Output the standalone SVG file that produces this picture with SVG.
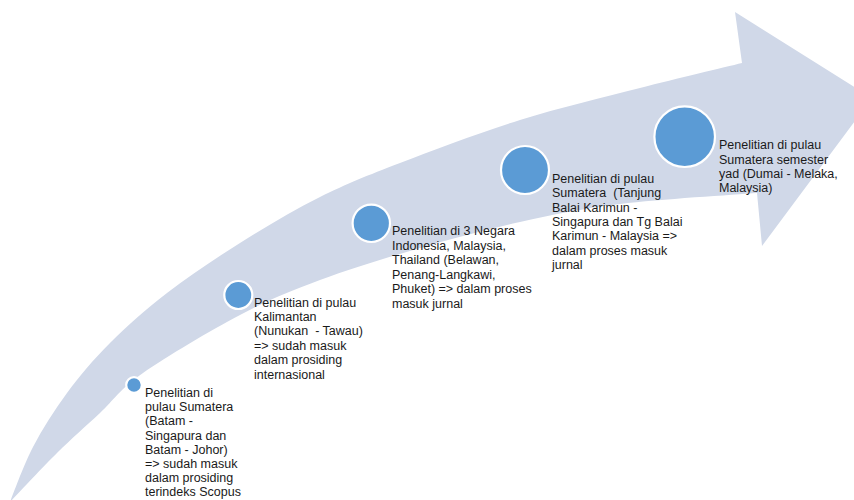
<svg xmlns="http://www.w3.org/2000/svg" width="854" height="500" viewBox="0 0 854 500">
<style>
.dot{fill:#5B9BD5;stroke:#FFFFFF;stroke-width:2.2}
.lbl{font-family:"Liberation Sans",Arial,sans-serif;font-size:12.5px;fill:#1a1a1a;white-space:pre}
</style>
<rect width="854" height="500" fill="#FFFFFF"/>
<g id="arrow">
<path d="M10,502 C13.8,492.8 23.5,465.2 33,447 C42.5,428.8 54.2,410.3 67,393 C79.8,375.7 93.3,359.7 110,343 C126.7,326.3 145.3,309.7 167,293 C188.7,276.3 214.5,259 240,243 C265.5,227 293.3,210.3 320,197 C346.7,183.7 366.7,175.8 400,163 C433.3,150.2 480,132.5 520,120 C560,107.5 603,97.5 640,88 C677,78.5 725,67.2 742,63 L735,12 L872,98 L762,246 L757,193 C734.2,194.8 659.5,199.2 620,204 C580.5,208.8 553.3,214.7 520,222 C486.7,229.3 453.3,238.3 420,248 C386.7,257.7 350,268.8 320,280 C290,291.2 269.5,299.5 240,315 C210.5,330.5 166.3,356.7 143,373 C119.7,389.3 114.3,399.7 100,413 C85.7,426.3 72,438.2 57,453 C42,467.8 17.8,493.8 10,502 Z" fill="#D0D8E8"/>
</g>
<g id="connectors"></g>
<g id="node1">
<circle class="dot" cx="134" cy="385" r="7.8"/>
<text class="lbl" x="145" y="397"><tspan x="145">Penelitian di</tspan><tspan x="145" dy="14.2">pulau Sumatera</tspan><tspan x="145" dy="14.2">(Batam -</tspan><tspan x="145" dy="14.2">Singapura dan</tspan><tspan x="145" dy="14.2">Batam - Johor)</tspan><tspan x="145" dy="14.2">=&gt; sudah masuk</tspan><tspan x="145" dy="14.2">dalam prosiding</tspan><tspan x="145" dy="14.2">terindeks Scopus</tspan></text>
</g>
<g id="node2">
<circle class="dot" cx="238.3" cy="295" r="14"/>
<text class="lbl" x="254" y="306.5"><tspan x="254">Penelitian di pulau</tspan><tspan x="254" dy="14.4">Kalimantan</tspan><tspan x="254" dy="14.4">(Nunukan  - Tawau)</tspan><tspan x="254" dy="14.4">=&gt; sudah masuk</tspan><tspan x="254" dy="14.4">dalam prosiding</tspan><tspan x="254" dy="14.4">internasional</tspan></text>
</g>
<g id="node3">
<circle class="dot" cx="371.3" cy="223.3" r="18.7"/>
<text class="lbl" x="392" y="235"><tspan x="392">Penelitian di 3 Negara</tspan><tspan x="392" dy="14.6">Indonesia, Malaysia,</tspan><tspan x="392" dy="14.6">Thailand (Belawan,</tspan><tspan x="392" dy="14.6">Penang-Langkawi,</tspan><tspan x="392" dy="14.6">Phuket) =&gt; dalam proses</tspan><tspan x="392" dy="14.6">masuk jurnal</tspan></text>
</g>
<g id="node4">
<circle class="dot" cx="525" cy="170" r="24"/>
<text class="lbl" x="552" y="182.6"><tspan x="552">Penelitian di pulau</tspan><tspan x="552" dy="14.45">Sumatera  (Tanjung</tspan><tspan x="552" dy="14.45">Balai Karimun -</tspan><tspan x="552" dy="14.45">Singapura dan Tg Balai</tspan><tspan x="552" dy="14.45">Karimun - Malaysia =&gt;</tspan><tspan x="552" dy="14.45">dalam proses masuk</tspan><tspan x="552" dy="14.45">jurnal</tspan></text>
</g>
<g id="node5">
<circle class="dot" cx="684.7" cy="136.7" r="30.3"/>
<text class="lbl" x="719" y="149.3"><tspan x="719">Penelitian di pulau</tspan><tspan x="719" dy="14.2">Sumatera semester</tspan><tspan x="719" dy="14.2">yad (Dumai - Melaka,</tspan><tspan x="719" dy="14.2">Malaysia)</tspan></text>
</g>
</svg>
